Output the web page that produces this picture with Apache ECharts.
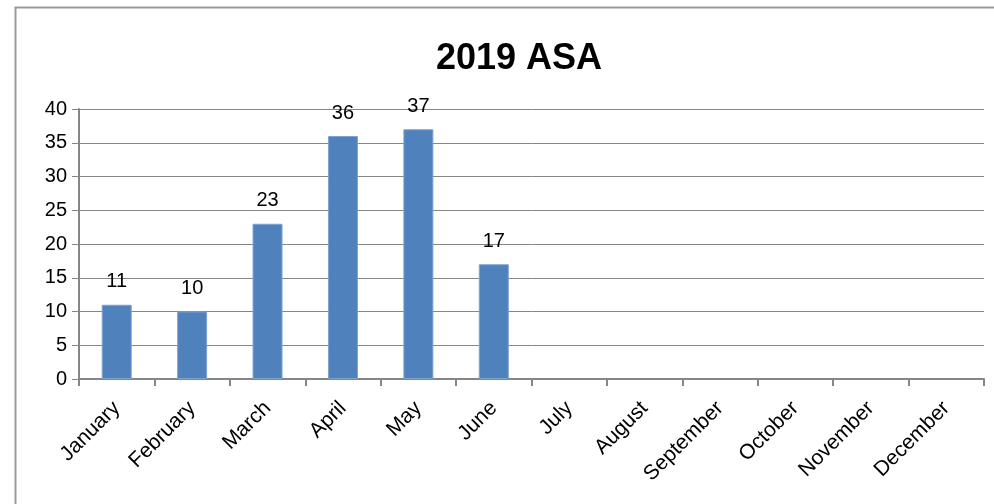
<!DOCTYPE html>
<html>
<head>
<meta charset="utf-8">
<script src="https://cdn.jsdelivr.net/npm/echarts@6/dist/echarts.min.js"></script>
<style>
html,body{margin:0;padding:0;background:#fff;}
#c{width:994px;height:504px;}
</style>
</head>
<body>
<div id="c"></div>
<script>
const title = "2019 ASA";
const months = ["January","February","March","April","May","June","July","August","September","October","November","December"];
const values = [11, 10, 23, 36, 37, 17, null, null, null, null, null, null];
const yTicks = {min: 0, max: 40, interval: 5};

const chart = echarts.init(document.getElementById('c'), null, {renderer: 'canvas'});
const font = '"Liberation Sans", Arial, sans-serif';
chart.setOption({
  animation: false,
  backgroundColor: '#fff',
  graphic: [{
    type: 'rect',
    shape: {x: 15.5, y: 7.5, width: 1100, height: 1100},
    style: {fill: 'none', stroke: '#9a9a9a', lineWidth: 2},
    silent: true
  }],
  title: {
    text: title,
    left: 514, top: 36,
    textAlign: 'center',
    textStyle: {fontFamily: font, fontWeight: 'bold', fontSize: 36, color: '#000'}
  },
  grid: {left: 79, right: 10, top: 109, bottom: 125, containLabel: false},
  xAxis: {
    type: 'category',
    data: months,
    boundaryGap: true,
    axisLine: {lineStyle: {color: '#868686', width: 2}},
    axisTick: {show: true, alignWithLabel: false, length: 7, lineStyle: {color: '#868686', width: 2}},
    axisLabel: {rotate: 45, margin: 26, color: '#000', fontFamily: font, fontSize: 21, interval: 0}
  },
  yAxis: {
    type: 'value',
    min: yTicks.min, max: yTicks.max, interval: yTicks.interval,
    axisLine: {show: true, lineStyle: {color: '#868686', width: 2}},
    axisTick: {show: true, length: 7, lineStyle: {color: '#868686', width: 1}},
    axisLabel: {margin: 12, color: '#000', fontFamily: font, fontSize: 20},
    splitLine: {show: true, lineStyle: {color: '#868686', width: 1}}
  },
  series: [{
    type: 'bar',
    data: values,
    barWidth: 30,
    itemStyle: {color: '#4F81BD', borderColor: '#7FA3D1', borderWidth: 1},
    label: {show: true, position: 'top', distance: 13, color: '#000', fontFamily: font, fontSize: 20}
  }]
});
</script>
</body>
</html>
